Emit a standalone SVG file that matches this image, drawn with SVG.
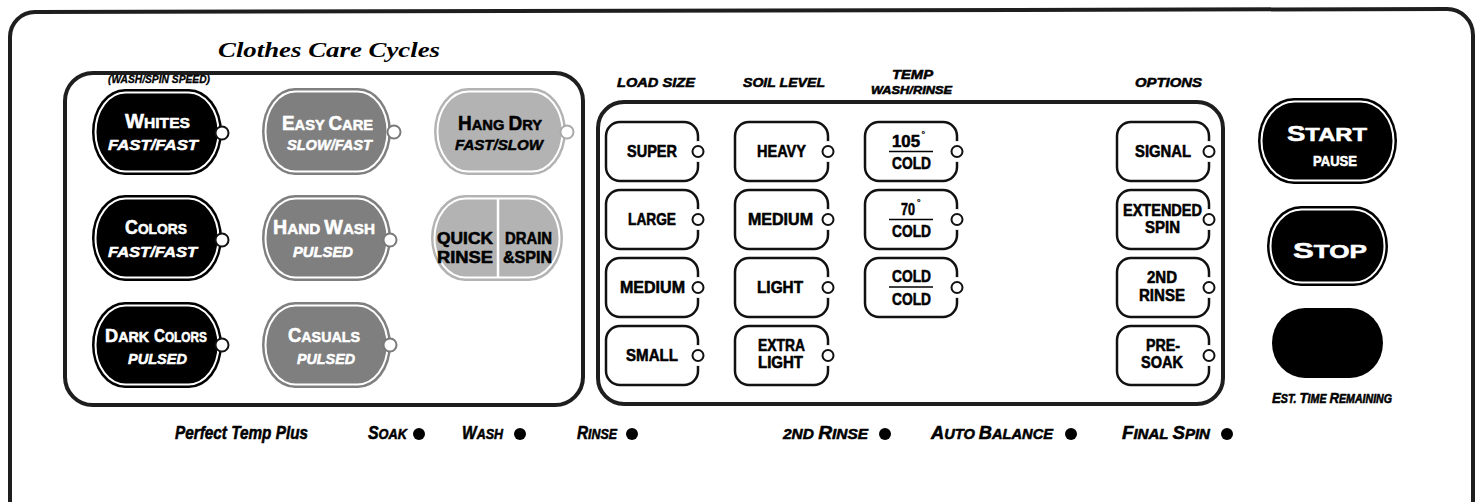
<svg xmlns="http://www.w3.org/2000/svg" width="1481" height="502" viewBox="0 0 1481 502">
<style>
.t{font-family:"Liberation Sans",Arial,sans-serif;font-weight:bold;fill:#000;stroke:#000;stroke-width:.55;stroke-linejoin:round}
.i{font-style:italic}
.w{fill:#fff;stroke:#fff}
.k{fill:#000}
.ttl{font-family:"Liberation Serif","Times New Roman",serif;font-weight:bold;font-style:italic;fill:#000}
.box{fill:none;stroke:#1e1e1e;stroke-width:4}
.sb{fill:#fff;stroke:#111;stroke-width:2.5}
.gap{fill:#fff}
.ind{fill:#fff;stroke:#111;stroke-width:2}
.ring{fill:none;stroke:#fff;stroke-width:2}
.dot{fill:#000}
.frac{stroke:#000;stroke-width:1.5}
</style>
<rect width="1481" height="502" fill="#fff"/>
<path class="box" d="M10,520 V37 A25,25 0 0 1 35,12 L1447,9 A26,26 0 0 1 1473,35 V520"/>
<text class="ttl" x="218" y="57" font-size="21" textLength="222" lengthAdjust="spacingAndGlyphs">Clothes Care Cycles</text>
<rect id="cycles-box" class="box" x="65" y="73" width="518" height="332" rx="28"/>
<rect id="settings-box" class="box" x="598" y="102" width="625" height="302" rx="26"/>
<text class="t i" x="108" y="83" font-size="10" style="stroke-width:.3" textLength="102" lengthAdjust="spacingAndGlyphs">(WASH/SPIN SPEED)</text>

<g id="whites">
<rect x="92" y="89" width="130" height="86" rx="33" ry="43" fill="#000"/>
<rect x="95.5" y="92.5" width="123" height="79" rx="30" ry="39.5" class="ring"/>
<circle cx="222" cy="133" r="6.5" class="ind"/>
<text class="t w" x="125" y="128" textLength="65" lengthAdjust="spacingAndGlyphs"><tspan font-size="20">W</tspan><tspan font-size="15.5">HITES</tspan></text>
<text class="t i w" x="108" y="150" font-size="15.5" textLength="90" lengthAdjust="spacingAndGlyphs">FAST/FAST</text>
</g>
<g id="colors">
<rect x="92" y="195" width="130" height="86" rx="33" ry="43" fill="#000"/>
<rect x="95.5" y="198.5" width="123" height="79" rx="30" ry="39.5" class="ring"/>
<circle cx="222" cy="240" r="6.5" class="ind"/>
<text class="t w" x="125" y="234" textLength="62" lengthAdjust="spacingAndGlyphs"><tspan font-size="20">C</tspan><tspan font-size="15.5">OLORS</tspan></text>
<text class="t i w" x="108" y="257" font-size="15.5" textLength="89" lengthAdjust="spacingAndGlyphs">FAST/FAST</text>
</g>
<g id="dark-colors">
<rect x="92" y="302" width="130" height="86" rx="33" ry="43" fill="#000"/>
<rect x="95.5" y="305.5" width="123" height="79" rx="30" ry="39.5" class="ring"/>
<circle cx="222" cy="345" r="6.5" class="ind"/>
<text class="t w" x="105" y="342" textLength="44" lengthAdjust="spacingAndGlyphs"><tspan font-size="18.5">D</tspan><tspan font-size="14.5">ARK</tspan></text>
<text class="t w" x="154" y="342" textLength="53" lengthAdjust="spacingAndGlyphs"><tspan font-size="18.5">C</tspan><tspan font-size="14.5">OLORS</tspan></text>
<text class="t i w" x="128" y="364" font-size="15.5" textLength="59" lengthAdjust="spacingAndGlyphs">PULSED</text>
</g>

<g id="easy-care">
<rect x="262" y="88" width="129" height="87" rx="33" ry="43.5" fill="#7f7f7f"/>
<rect x="265.5" y="91.5" width="122" height="80" rx="30" ry="40" class="ring"/>
<circle cx="394" cy="132" r="6.5" class="ind" style="stroke:#7a7a7a"/>
<text class="t w" x="282" y="130" textLength="91" lengthAdjust="spacingAndGlyphs"><tspan font-size="20">E</tspan><tspan font-size="15.5">ASY </tspan><tspan font-size="20">C</tspan><tspan font-size="15.5">ARE</tspan></text>
<text class="t i w" x="287" y="150" font-size="15.5" textLength="85" lengthAdjust="spacingAndGlyphs">SLOW/FAST</text>
</g>
<g id="hand-wash">
<rect x="262" y="195" width="129" height="86" rx="33" ry="43" fill="#7f7f7f"/>
<rect x="265.5" y="198.5" width="122" height="79" rx="30" ry="39.5" class="ring"/>
<circle cx="390" cy="240" r="6.5" class="ind" style="stroke:#7a7a7a"/>
<text class="t w" x="273" y="234" textLength="102" lengthAdjust="spacingAndGlyphs"><tspan font-size="20">H</tspan><tspan font-size="15.5">AND </tspan><tspan font-size="20">W</tspan><tspan font-size="15.5">ASH</tspan></text>
<text class="t i w" x="293" y="257" font-size="15.5" textLength="60" lengthAdjust="spacingAndGlyphs">PULSED</text>
</g>
<g id="casuals">
<rect x="262" y="302" width="129" height="86" rx="33" ry="43" fill="#7f7f7f"/>
<rect x="265.5" y="305.5" width="122" height="79" rx="30" ry="39.5" class="ring"/>
<circle cx="390" cy="345" r="6.5" class="ind" style="stroke:#7a7a7a"/>
<text class="t w" x="288" y="342" textLength="72" lengthAdjust="spacingAndGlyphs"><tspan font-size="20">C</tspan><tspan font-size="15.5">ASUALS</tspan></text>
<text class="t i w" x="297" y="364" font-size="15.5" textLength="58" lengthAdjust="spacingAndGlyphs">PULSED</text>
</g>
<g id="hang-dry">
<rect x="434" y="88" width="132" height="87" rx="34" ry="43.5" fill="#b3b3b3"/>
<rect x="437.5" y="91.5" width="125" height="80" rx="31" ry="40" class="ring"/>
<circle cx="567" cy="132" r="6.5" class="ind" style="stroke:#a9a9a9"/>
<text class="t k" x="458" y="130" textLength="84" lengthAdjust="spacingAndGlyphs"><tspan font-size="20">H</tspan><tspan font-size="15.5">ANG </tspan><tspan font-size="20">D</tspan><tspan font-size="15.5">RY</tspan></text>
<text class="t i k" x="455" y="150" font-size="15.5" textLength="88" lengthAdjust="spacingAndGlyphs">FAST/SLOW</text>
</g>
<g id="quick-rinse-drain-spin">
<rect x="431" y="195" width="132" height="86" rx="34" ry="43" fill="#b3b3b3"/>
<rect x="434.5" y="198.5" width="125" height="79" rx="31" ry="39.5" class="ring"/>
<line x1="498" y1="199" x2="498" y2="277" stroke="#fff" stroke-width="2.5"/>
<text class="t k" x="437" y="244" font-size="16" textLength="56" lengthAdjust="spacingAndGlyphs">QUICK</text>
<text class="t k" x="437" y="263" font-size="16" textLength="56" lengthAdjust="spacingAndGlyphs">RINSE</text>
<text class="t k" x="505" y="244" font-size="16" textLength="47" lengthAdjust="spacingAndGlyphs">DRAIN</text>
<text class="t k" x="503" y="263" font-size="16" textLength="49" lengthAdjust="spacingAndGlyphs">&amp;SPIN</text>
</g>

<g id="headers">
<text class="t i" x="617" y="87" font-size="13.5" textLength="78" lengthAdjust="spacingAndGlyphs">LOAD SIZE</text>
<text class="t i" x="743" y="87" font-size="13.5" textLength="82" lengthAdjust="spacingAndGlyphs">SOIL LEVEL</text>
<text class="t i" x="892" y="79" font-size="13.5" textLength="41" lengthAdjust="spacingAndGlyphs">TEMP</text>
<text class="t i" x="871" y="94" font-size="11" textLength="81" lengthAdjust="spacingAndGlyphs">WASH/RINSE</text>
<text class="t i" x="1135" y="87" font-size="13.5" textLength="67" lengthAdjust="spacingAndGlyphs">OPTIONS</text>
</g>

<g id="super"><rect class="sb" x="606" y="122" width="92" height="59" rx="14"/><circle class="gap" cx="698" cy="151.5" r="10.5"/><circle class="ind" cx="698" cy="151.5" r="5.5"/><text class="t" x="627" y="157" font-size="16.5" textLength="50" lengthAdjust="spacingAndGlyphs">SUPER</text></g>
<g id="large"><rect class="sb" x="606" y="190" width="92" height="59" rx="14"/><circle class="gap" cx="698" cy="219.5" r="10.5"/><circle class="ind" cx="698" cy="219.5" r="5.5"/><text class="t" x="628" y="225" font-size="16.5" textLength="48" lengthAdjust="spacingAndGlyphs">LARGE</text></g>
<g id="medium-load"><rect class="sb" x="606" y="258" width="92" height="59" rx="14"/><circle class="gap" cx="698" cy="287.5" r="10.5"/><circle class="ind" cx="698" cy="287.5" r="5.5"/><text class="t" x="620" y="293" font-size="16.5" textLength="65" lengthAdjust="spacingAndGlyphs">MEDIUM</text></g>
<g id="small"><rect class="sb" x="606" y="326" width="92" height="59" rx="14"/><circle class="gap" cx="698" cy="355.5" r="10.5"/><circle class="ind" cx="698" cy="355.5" r="5.5"/><text class="t" x="626" y="361" font-size="16.5" textLength="52" lengthAdjust="spacingAndGlyphs">SMALL</text></g>

<g id="heavy"><rect class="sb" x="735" y="122" width="93" height="59" rx="14"/><circle class="gap" cx="828" cy="151.5" r="10.5"/><circle class="ind" cx="828" cy="151.5" r="5.5"/><text class="t" x="757" y="157" font-size="16.5" textLength="49" lengthAdjust="spacingAndGlyphs">HEAVY</text></g>
<g id="medium-soil"><rect class="sb" x="735" y="190" width="93" height="59" rx="14"/><circle class="gap" cx="828" cy="219.5" r="10.5"/><circle class="ind" cx="828" cy="219.5" r="5.5"/><text class="t" x="748" y="225" font-size="16.5" textLength="65" lengthAdjust="spacingAndGlyphs">MEDIUM</text></g>
<g id="light"><rect class="sb" x="735" y="258" width="93" height="59" rx="14"/><circle class="gap" cx="828" cy="287.5" r="10.5"/><circle class="ind" cx="828" cy="287.5" r="5.5"/><text class="t" x="757" y="293" font-size="16.5" textLength="46" lengthAdjust="spacingAndGlyphs">LIGHT</text></g>
<g id="extra-light"><rect class="sb" x="735" y="326" width="93" height="59" rx="14"/><circle class="gap" cx="828" cy="355.5" r="10.5"/><circle class="ind" cx="828" cy="355.5" r="5.5"/><text class="t" x="758" y="351" font-size="16" textLength="47" lengthAdjust="spacingAndGlyphs">EXTRA</text><text class="t" x="758" y="368" font-size="16" textLength="45" lengthAdjust="spacingAndGlyphs">LIGHT</text></g>

<g id="temp-105"><rect class="sb" x="865" y="122" width="92" height="59" rx="14"/><circle class="gap" cx="957" cy="151.5" r="10.5"/><circle class="ind" cx="957" cy="151.5" r="5.5"/><text class="t" x="892" y="147" font-size="16.5" textLength="28" lengthAdjust="spacingAndGlyphs">105</text><text class="t" x="921.5" y="137" font-size="9" style="stroke-width:.2">°</text><line class="frac" x1="889" y1="151.5" x2="933" y2="151.5"/><text class="t" x="892" y="169" font-size="16.5" textLength="39" lengthAdjust="spacingAndGlyphs">COLD</text></g>
<g id="temp-70"><rect class="sb" x="865" y="190" width="92" height="59" rx="14"/><circle class="gap" cx="957" cy="219.5" r="10.5"/><circle class="ind" cx="957" cy="219.5" r="5.5"/><text class="t" x="901" y="215" font-size="16.5" textLength="14" lengthAdjust="spacingAndGlyphs">70</text><text class="t" x="917" y="205" font-size="9" style="stroke-width:.2">°</text><line class="frac" x1="889" y1="219.5" x2="933" y2="219.5"/><text class="t" x="892" y="237" font-size="16.5" textLength="39" lengthAdjust="spacingAndGlyphs">COLD</text></g>
<g id="temp-cold"><rect class="sb" x="865" y="258" width="92" height="59" rx="14"/><circle class="gap" cx="957" cy="287.5" r="10.5"/><circle class="ind" cx="957" cy="287.5" r="5.5"/><text class="t" x="892" y="282" font-size="16.5" textLength="39" lengthAdjust="spacingAndGlyphs">COLD</text><line class="frac" x1="889" y1="287" x2="933" y2="287"/><text class="t" x="892" y="305" font-size="16.5" textLength="39" lengthAdjust="spacingAndGlyphs">COLD</text></g>

<g id="signal"><rect class="sb" x="1117" y="122" width="92" height="59" rx="14"/><circle class="gap" cx="1209" cy="151.5" r="10.5"/><circle class="ind" cx="1209" cy="151.5" r="5.5"/><text class="t" x="1135" y="157" font-size="16.5" textLength="56" lengthAdjust="spacingAndGlyphs">SIGNAL</text></g>
<g id="extended-spin"><rect class="sb" x="1117" y="190" width="92" height="59" rx="14"/><circle class="gap" cx="1209" cy="219.5" r="10.5"/><circle class="ind" cx="1209" cy="219.5" r="5.5"/><text class="t" x="1123" y="216" font-size="16" textLength="79" lengthAdjust="spacingAndGlyphs">EXTENDED</text><text class="t" x="1145" y="233" font-size="16" textLength="35" lengthAdjust="spacingAndGlyphs">SPIN</text></g>
<g id="second-rinse"><rect class="sb" x="1117" y="258" width="92" height="59" rx="14"/><circle class="gap" cx="1209" cy="287.5" r="10.5"/><circle class="ind" cx="1209" cy="287.5" r="5.5"/><text class="t" x="1147" y="283" font-size="16" textLength="30" lengthAdjust="spacingAndGlyphs">2ND</text><text class="t" x="1139" y="301" font-size="16" textLength="46" lengthAdjust="spacingAndGlyphs">RINSE</text></g>
<g id="pre-soak"><rect class="sb" x="1117" y="326" width="92" height="59" rx="14"/><circle class="gap" cx="1209" cy="355.5" r="10.5"/><circle class="ind" cx="1209" cy="355.5" r="5.5"/><text class="t" x="1146" y="351" font-size="16" textLength="34" lengthAdjust="spacingAndGlyphs">PRE-</text><text class="t" x="1141" y="368" font-size="16" textLength="42" lengthAdjust="spacingAndGlyphs">SOAK</text></g>

<g id="start">
<rect x="1258" y="98" width="139" height="86" rx="36" ry="43" fill="#000"/>
<rect x="1261.5" y="101.5" width="132" height="79" rx="33" ry="39.5" class="ring"/>
<text class="t w" x="1287" y="141" textLength="80" lengthAdjust="spacingAndGlyphs"><tspan font-size="22">S</tspan><tspan font-size="19">TART</tspan></text>
<text class="t w" x="1313" y="166" font-size="14" textLength="44" lengthAdjust="spacingAndGlyphs">PAUSE</text>
</g>
<g id="stop">
<rect x="1267" y="206" width="121" height="80" rx="34" ry="40" fill="#000"/>
<rect x="1270.5" y="209.5" width="114" height="73" rx="31" ry="36.5" class="ring"/>
<text class="t w" x="1293" y="258" textLength="74" lengthAdjust="spacingAndGlyphs"><tspan font-size="21.5">S</tspan><tspan font-size="18">TOP</tspan></text>
</g>
<g id="display">
<rect x="1272" y="308" width="111" height="70" rx="33" ry="35" fill="#000"/>
<text class="t i" x="1272" y="403" textLength="120" lengthAdjust="spacingAndGlyphs"><tspan font-size="15">E</tspan><tspan font-size="12">ST. </tspan><tspan font-size="15">T</tspan><tspan font-size="12">IME </tspan><tspan font-size="15">R</tspan><tspan font-size="12">EMAINING</tspan></text>
</g>

<g id="status">
<text class="t i" x="175" y="439" font-size="18" textLength="133" lengthAdjust="spacingAndGlyphs">Perfect Temp Plus</text>
<text class="t i" x="368" y="439" textLength="39" lengthAdjust="spacingAndGlyphs"><tspan font-size="18">S</tspan><tspan font-size="14.5">OAK</tspan></text>
<circle class="dot" cx="419" cy="434" r="6"/>
<text class="t i" x="462" y="439" textLength="41" lengthAdjust="spacingAndGlyphs"><tspan font-size="18">W</tspan><tspan font-size="14.5">ASH</tspan></text>
<circle class="dot" cx="520" cy="434" r="6"/>
<text class="t i" x="577" y="439" textLength="40" lengthAdjust="spacingAndGlyphs"><tspan font-size="18">R</tspan><tspan font-size="14.5">INSE</tspan></text>
<circle class="dot" cx="632" cy="434" r="6"/>
<text class="t i" x="783" y="439" textLength="85" lengthAdjust="spacingAndGlyphs"><tspan font-size="14.5">2ND </tspan><tspan font-size="18">R</tspan><tspan font-size="14.5">INSE</tspan></text>
<circle class="dot" cx="885" cy="434" r="6"/>
<text class="t i" x="931" y="439" textLength="122" lengthAdjust="spacingAndGlyphs"><tspan font-size="18">A</tspan><tspan font-size="14.5">UTO </tspan><tspan font-size="18">B</tspan><tspan font-size="14.5">ALANCE</tspan></text>
<circle class="dot" cx="1071" cy="434" r="6"/>
<text class="t i" x="1122" y="439" textLength="88" lengthAdjust="spacingAndGlyphs"><tspan font-size="18">F</tspan><tspan font-size="14.5">INAL </tspan><tspan font-size="18">S</tspan><tspan font-size="14.5">PIN</tspan></text>
<circle class="dot" cx="1227" cy="434" r="6"/>
</g>
<g id="connectors"/>
</svg>
